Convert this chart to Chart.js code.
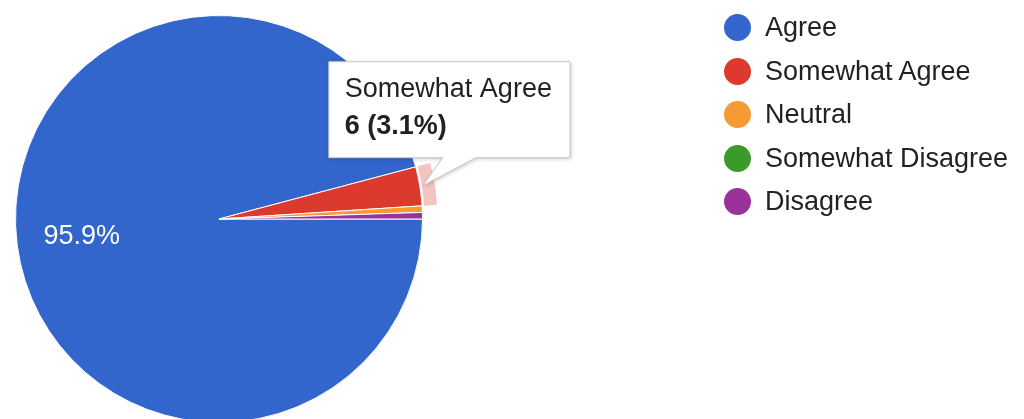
<!DOCTYPE html>
<html lang="en">
<head>
  <meta charset="UTF-8" />
  <title>Survey Responses</title>
  <script src="https://cdn.jsdelivr.net/npm/chart.js"></script>
  <style>
    html, body { margin: 0; background: #fff; width: 1024px; height: 419px; overflow: hidden; }
    #wrap { position: relative; width: 1024px; height: 419px; overflow: hidden; }
    #pie { position: absolute; left: 0; top: 0; }
    #legend {
      position: absolute; left: 724px; top: 6px; margin: 0; padding: 0; list-style: none;
      font-family: "Liberation Sans", Arial, sans-serif; font-size: 27px; color: #222;
    }
    #legend li { display: flex; align-items: center; height: 43.5px; white-space: nowrap; }
    #legend .dot { width: 27px; height: 27px; border-radius: 50%; margin-right: 14px; flex: none; }
  </style>
</head>
<body>
  <div id="wrap">
    <canvas id="pie" width="1024" height="440"></canvas>
    <ul id="legend"></ul>
  </div>

  <script>
    // data
    const labels = ["Agree", "Somewhat Agree", "Neutral", "Somewhat Disagree", "Disagree"];
    const counts = [186, 6, 1, 0, 1];
    const colors = ["#3366cc", "#dc3a2f", "#f59a34", "#3a9a2a", "#993399"];
    const selected = 1; // slice shown with the tooltip

    const total = counts.reduce((a, b) => a + b, 0);
    const pct = v => (v / total * 100).toFixed(1) + "%";

    // legend
    const legend = document.getElementById("legend");
    labels.forEach((l, i) => {
      const li = document.createElement("li");
      li.innerHTML = '<span class="dot" style="background:' + colors[i] + '"></span><span>' + l + '</span>';
      legend.appendChild(li);
    });

    Chart.defaults.font.family = '"Liberation Sans", Arial, sans-serif';

    // slice labels for the big slices + hover ring + tooltip box
    const pieExtras = {
      id: "pieExtras",
      beforeDatasetsDraw(chart) {
        const arc = chart.getDatasetMeta(0).data[selected];
        const { x, y, startAngle, endAngle, outerRadius } = arc.getProps(["x", "y", "startAngle", "endAngle", "outerRadius"], true);
        const ctx = chart.ctx;
        ctx.save();
        ctx.beginPath();
        ctx.arc(x, y, outerRadius + 15, startAngle, endAngle);
        ctx.arc(x, y, outerRadius + 2, endAngle, startAngle, true);
        ctx.closePath();
        ctx.fillStyle = "rgba(220,58,47,0.3)";
        ctx.fill();
        ctx.restore();
      },
      afterDatasetsDraw(chart) {
        const ctx = chart.ctx;
        const meta = chart.getDatasetMeta(0);
        ctx.save();
        ctx.font = "27px " + Chart.defaults.font.family;
        ctx.fillStyle = "#fff";
        ctx.textAlign = "center";
        ctx.textBaseline = "middle";
        meta.data.forEach((arc, i) => {
          if (counts[i] / total < 0.05) return;
          const { x, y, startAngle, endAngle, outerRadius } = arc.getProps(["x", "y", "startAngle", "endAngle", "outerRadius"], true);
          const mid = (startAngle + endAngle) / 2;
          ctx.fillText(pct(counts[i]), x + Math.cos(mid) * outerRadius * 0.68, y + Math.sin(mid) * outerRadius * 0.68);
        });
        ctx.restore();
      },
      afterDraw(chart) {
        const ctx = chart.ctx;
        const arc = chart.getDatasetMeta(0).data[selected];
        const { x, y, startAngle, endAngle, outerRadius } = arc.getProps(["x", "y", "startAngle", "endAngle", "outerRadius"], true);
        const mid = (startAngle + endAngle) / 2;
        const ax = x + Math.cos(mid) * (outerRadius + 3);
        const ay = y + Math.sin(mid) * (outerRadius + 3);

        const title = labels[selected];
        const body = counts[selected] + " (" + pct(counts[selected]) + ")";
        ctx.save();
        ctx.font = "27px " + Chart.defaults.font.family;
        const w = Math.max(ctx.measureText(title).width, 100) + 34;
        const h = 96;
        const left = ax - 94, bottom = ay - 28, top = bottom - h, right = left + w;

        ctx.beginPath();
        ctx.moveTo(left, top);
        ctx.lineTo(right, top);
        ctx.lineTo(right, bottom);
        ctx.lineTo(ax + 53, bottom);
        ctx.lineTo(ax, ay);
        ctx.lineTo(ax + 20, bottom);
        ctx.lineTo(left, bottom);
        ctx.closePath();
        ctx.shadowColor = "rgba(0,0,0,0.25)";
        ctx.shadowBlur = 4;
        ctx.shadowOffsetX = 1;
        ctx.shadowOffsetY = 1;
        ctx.fillStyle = "#fff";
        ctx.fill();
        ctx.shadowColor = "transparent";
        ctx.strokeStyle = "#c8c8c8";
        ctx.lineWidth = 1;
        ctx.stroke();

        ctx.fillStyle = "#222";
        ctx.textAlign = "left";
        ctx.textBaseline = "alphabetic";
        ctx.fillText(title, left + 16, top + 35);
        ctx.font = "bold 27px " + Chart.defaults.font.family;
        ctx.fillText(body, left + 16, top + 72);
        ctx.restore();
      }
    };

    new Chart(document.getElementById("pie"), {
      type: "pie",
      data: {
        labels: labels,
        datasets: [{
          data: counts,
          backgroundColor: colors,
          borderColor: "#fff",
          borderWidth: 1
        }]
      },
      options: {
        responsive: false,
        animation: false,
        events: [],
        rotation: 90,
        layout: { padding: { left: 15, top: 15, right: 601, bottom: 17 } },
        plugins: {
          legend: { display: false },
          tooltip: { enabled: false }
        }
      },
      plugins: [pieExtras]
    });
  </script>
</body>
</html>
